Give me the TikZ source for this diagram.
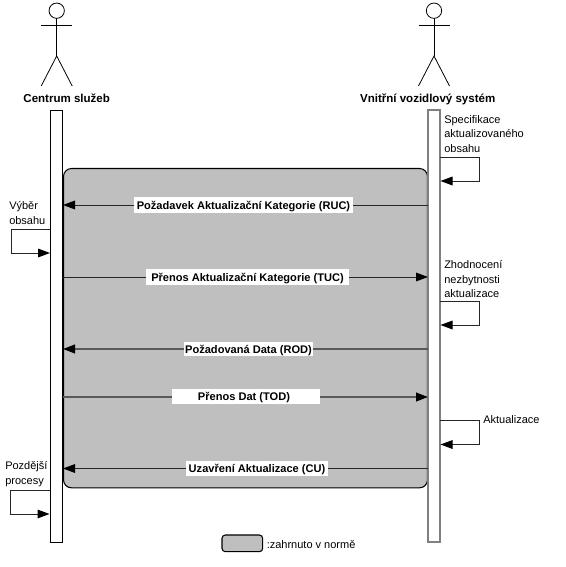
\documentclass[tikz,border=0pt]{standalone}
\usepackage{fontspec}
\setmainfont{Liberation Sans}
\usetikzlibrary{arrows.meta}
\tikzset{
  bar/.style={draw=black!50!white,fill=white,line width=0.9pt,minimum width=9pt,minimum height=324pt,inner sep=0pt,outer sep=0pt},
  barl/.style={bar,draw=black,line width=0.7pt},
  region/.style={draw=black,fill=black!25!white,line width=0.8pt,rounded corners=6pt,inner sep=0pt,outer sep=0pt},
  msg/.style={-{Triangle[length=9pt,width=6.5pt,color=black]},line width=0.75pt,black!85!white},
  msgbold/.style={-{Triangle[length=9pt,width=6.5pt,color=black]},line width=1.4pt,black!65!white},
  msglabel/.style={fill=white,font=\fontsize{8.3}{10}\selectfont\bfseries,inner sep=0pt,outer sep=0pt,text depth=0pt},
  loopline/.style={-{Triangle[length=9pt,width=6.5pt,color=black]},line width=0.75pt,black!85!white},
  title/.style={font=\fontsize{8.65}{10}\selectfont\bfseries,inner sep=0pt},
  note/.style={font=\fontsize{8.25}{10.6}\selectfont,inner sep=0pt,align=left,anchor=north west}
}
\begin{document}
\begin{tikzpicture}[x=0.75pt,y=-0.75pt]
\useasboundingbox (0,0) rectangle (566,567);
% region
\node[region,minimum width=273pt,minimum height=239.5pt,anchor=north west] (reg) at (63.5,168.5) {};
% lifelines
\node[barl,anchor=north] (L) at (56.5,110) {};
\node[bar,anchor=north] (R) at (434,110) {};
% actors
\foreach \n/\x in {a/56.7,b/434}{
  \node[circle,draw=black,line width=0.6pt,fill=white,minimum size=11.5pt,inner sep=0pt,outer sep=0pt] (head\n) at (\x,10.7) {};
  \coordinate (hip\n) at (\x,56);
  \draw[line width=0.6pt] (head\n.south) -- (hip\n);
  \coordinate (la\n) at (\x-15.5,25);
  \coordinate (ra\n) at (\x+15.5,25);
  \coordinate (lf\n) at (\x-15.5,86);
  \coordinate (rf\n) at (\x+15.5,86);
  \draw[line width=0.6pt] (la\n) -- (ra\n);
  \draw[line width=0.6pt] (lf\n) -- (hip\n) -- (rf\n);
}
\node[title] (tl) at (66.7,98) {Centrum služeb};
\node[title] (tr) at (427.7,99) {Vnitřní vozidlový systém};
% message endpoints
\foreach \n/\y in {1/205,2/277,3/349,4/397,5/468.5}{
  \coordinate (LL\n) at (63,\y);
  \coordinate (RR\n) at (428,\y);
}
\draw[msg] (RR1) -- (LL1);
\draw[msg] (LL2) -- (RR2);
\draw[msgbold] (RR3) -- (LL3);
\draw[msgbold] (LL4) -- (RR4);
\draw[msg] (RR5) -- (LL5);
\node[msglabel,minimum width=164pt,minimum height=11.5pt] (m1) at (243.5,205) {Požadavek Aktualizační Kategorie (RUC)};
\node[msglabel,minimum width=152pt,minimum height=12pt] (m2) at (247.5,277) {Přenos Aktualizační Kategorie (TUC)};
\node[msglabel,minimum width=97pt,minimum height=11pt] (m3) at (248.5,349) {Požadovaná Data (ROD)};
\node[msglabel,minimum width=111pt,minimum height=11pt] (m4) at (246,396.5) {\hspace*{-3pt}Přenos Dat (TOD)};
\node[msglabel,minimum width=106pt,minimum height=11pt] (m5) at (257,468.5) {Uzavření Aktualizace (CU)};
% self loops
\coordinate (a1) at (50,229); \coordinate (a2) at (11,229); \coordinate (a3) at (11,253); \coordinate (a4) at (50,253);
\draw[loopline] (a1) -- (a2) -- (a3) -- (a4);
\coordinate (b1) at (50,490); \coordinate (b2) at (10,490); \coordinate (b3) at (10,514); \coordinate (b4) at (49.5,514);
\draw[loopline] (b1) -- (b2) -- (b3) -- (b4);
\coordinate (c1) at (440,157); \coordinate (c2) at (479,157); \coordinate (c3) at (479,181); \coordinate (c4) at (440.5,181);
\draw[loopline] (c1) -- (c2) -- (c3) -- (c4);
\coordinate (d1) at (440,301); \coordinate (d2) at (479,301); \coordinate (d3) at (479,325); \coordinate (d4) at (440.5,325);
\draw[loopline] (d1) -- (d2) -- (d3) -- (d4);
\coordinate (e1) at (440,420.5); \coordinate (e2) at (479,420.5); \coordinate (e3) at (479,444.5); \coordinate (e4) at (440.5,444.5);
\draw[loopline] (e1) -- (e2) -- (e3) -- (e4);
% notes
\node[note] (n1) at (9,201.5) {Výběr\\obsahu};
\node[note] (n2) at (5,461.5) {Pozdější\\procesy};
\node[note] (n3) at (444,115.5) {Specifikace\\aktualizovaného\\obsahu};
\node[note] (n4) at (444,260.5) {Zhodnocení\\nezbytnosti\\aktualizace};
\node[note] (n5) at (483,415.5) {Aktualizace};
% legend
\node[region,rounded corners=2.5pt,minimum width=30.5pt,minimum height=12.5pt,anchor=north west] (leg) at (222,535) {};
\node[note,anchor=west] (legt) at (266.5,544.5) {:zahrnuto v normě};
\end{tikzpicture}
\end{document}
